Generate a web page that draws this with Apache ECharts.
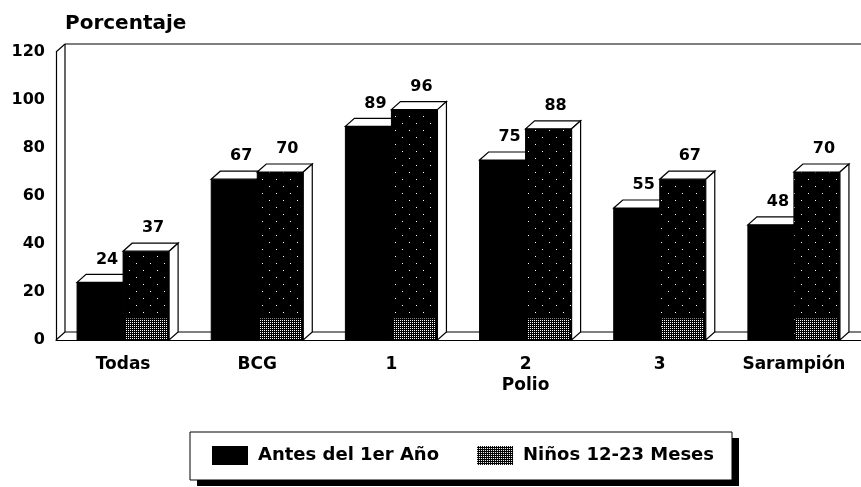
<!DOCTYPE html>
<html>
<head>
<meta charset="utf-8">
<script src="https://cdn.jsdelivr.net/npm/echarts@6/dist/echarts.min.js"></script>
<style>
html, body { margin: 0; padding: 0; background: #fff; }
#chart { width: 861px; height: 487px; }
</style>
</head>
<body>
<div id="chart"></div>
<script>
// datos
var categorias = ['Todas', 'BCG', '1', '2', '3', 'Sarampión'];
var antesDel1erAno = [24, 67, 89, 75, 55, 48];
var ninos12a23 = [37, 70, 96, 88, 67, 70];
var yTicks = { min: 0, max: 120, interval: 20 };

var FONT = '"DejaVu Sans", sans-serif';
var DX = 9, DY = 8;       // profundidad del efecto 3D
var BAR_RATIO = 0.343;    // ancho de cada barra respecto a la categoria

// tramas de relleno
function makePattern(size, dots) {
	var c = document.createElement('canvas');
	c.width = c.height = size;
	var g = c.getContext('2d');
	g.fillStyle = '#000';
	g.fillRect(0, 0, size, size);
	g.fillStyle = '#fff';
	dots.forEach(function(d) { g.fillRect(d[0], d[1], 1, 1); });
	return { image: c, repeat: 'repeat' };
}
var tramaRala = makePattern(14, [[3, 4], [10, 11]]);
var tramaDensa = makePattern(2, [[0, 0]]);

// barra con cara superior y lateral
function renderBar(params, api) {
	var esNinos = params.seriesName === 'Niños 12-23 Meses';
	var idx = api.value(0), val = api.value(1);
	var band = api.size([1, 0])[0];
	var w = band * BAR_RATIO;
	var top = api.coord([idx, val]);
	var base = api.coord([idx, 0]);
	var x0 = esNinos ? top[0] : top[0] - w;
	var yT = top[1], yB = base[1];
	var children = [];
	children.push({
		type: 'rect',
		shape: { x: x0, y: yT, width: w, height: yB - yT },
		style: { fill: esNinos ? tramaRala : '#000', stroke: '#000', lineWidth: 1 }
	});
	if (esNinos) {
		var yD = api.coord([idx, Math.min(val, 9)])[1];
		children.push({
			type: 'rect',
			shape: { x: x0 + 2, y: yD, width: w - 4, height: yB - yD },
			style: { fill: tramaDensa }
		});
	}
	children.push({
		type: 'polygon',
		shape: { points: [[x0, yT], [x0 + w, yT], [x0 + w + DX, yT - DY], [x0 + DX, yT - DY]] },
		style: { fill: '#fff', stroke: '#000', lineWidth: 1.2 }
	});
	children.push({
		type: 'polygon',
		shape: { points: [[x0 + w, yT], [x0 + w + DX, yT - DY], [x0 + w + DX, yB - DY], [x0 + w, yB]] },
		style: { fill: '#fff', stroke: '#000', lineWidth: 1.2 }
	});
	children.push({
		type: 'text',
		style: {
			text: String(val),
			x: x0 + w / 2 + 7,
			y: yT - DY - 7,
			align: 'center',
			verticalAlign: 'bottom',
			fill: '#000',
			font: 'bold 16px ' + FONT
		}
	});
	return { type: 'group', children: children };
}

// pared del fondo y piso
function renderFrame(params, api) {
	var cs = params.coordSys;
	var x = cs.x, y = cs.y, w = cs.width, h = cs.height;
	var ls = { stroke: '#000', lineWidth: 1.2 };
	function line(a, b) { return { type: 'line', shape: { x1: a[0], y1: a[1], x2: b[0], y2: b[1] }, style: ls }; }
	return {
		type: 'group',
		children: [
			line([x + DX, y - DY], [x + w, y - DY]),
			line([x + DX, y - DY], [x + DX, y + h - DY]),
			line([x + DX, y + h - DY], [x + w, y + h - DY]),
			line([x, y], [x + DX, y - DY]),
			line([x, y + h], [x + DX, y + h - DY])
		]
	};
}

var myChart = echarts.init(document.getElementById('chart'));
var option = {
	animation: false,
	backgroundColor: '#fff',
	title: {
		text: 'Porcentaje',
		left: 60,
		top: 9,
		textStyle: { fontFamily: FONT, fontWeight: 'bold', fontSize: 20, color: '#000' }
	},
	// recuadro de la leyenda con sombra
	graphic: [
		{ type: 'rect', z: 0, shape: { x: 197, y: 438, width: 542, height: 48 }, style: { fill: '#000' } },
		{ type: 'rect', z: 1, shape: { x: 190, y: 432, width: 542, height: 48 }, style: { fill: '#fff', stroke: '#000', lineWidth: 1 } }
	],
	grid: { left: 56, right: 0, top: 52, bottom: 147, containLabel: false },
	legend: {
		left: 190,
		top: 432,
		z: 5,
		padding: [14, 22, 14, 22],
		itemWidth: 36,
		itemHeight: 19,
		itemGap: 38,
		textStyle: { fontFamily: FONT, fontWeight: 'bold', fontSize: 18, color: '#000', padding: [0, 0, 0, 5] },
		data: [
			{ name: 'Antes del 1er Año', icon: 'rect', itemStyle: { color: '#000' } },
			{ name: 'Niños 12-23 Meses', icon: 'rect', itemStyle: { color: tramaDensa } }
		]
	},
	xAxis: {
		type: 'category',
		data: categorias,
		axisLine: { lineStyle: { color: '#000', width: 1.2 } },
		axisTick: { show: false },
		axisLabel: {
			margin: 14,
			color: '#000',
			fontFamily: FONT,
			fontWeight: 'bold',
			fontSize: 17,
			lineHeight: 21,
			formatter: function(v) { return v === '2' ? '2\nPolio' : v; }
		}
	},
	yAxis: {
		type: 'value',
		min: yTicks.min,
		max: yTicks.max,
		interval: yTicks.interval,
		axisLine: { show: true, lineStyle: { color: '#000', width: 1.2 } },
		axisTick: { show: false },
		splitLine: { show: false },
		axisLabel: { margin: 11, color: '#000', fontFamily: FONT, fontWeight: 'bold', fontSize: 16 }
	},
	series: [
		{
			name: 'marco',
			type: 'custom',
			silent: true,
			renderItem: renderFrame,
			data: [[0, 0]],
			encode: { x: 0, y: 1 }
		},
		{
			name: 'Antes del 1er Año',
			type: 'custom',
			renderItem: renderBar,
			itemStyle: { color: '#000' },
			encode: { x: 0, y: 1 },
			data: antesDel1erAno.map(function(v, i) { return [i, v]; })
		},
		{
			name: 'Niños 12-23 Meses',
			type: 'custom',
			renderItem: renderBar,
			itemStyle: { color: tramaDensa },
			encode: { x: 0, y: 1 },
			data: ninos12a23.map(function(v, i) { return [i, v]; })
		}
	]
};
myChart.setOption(option);
</script>
</body>
</html>
